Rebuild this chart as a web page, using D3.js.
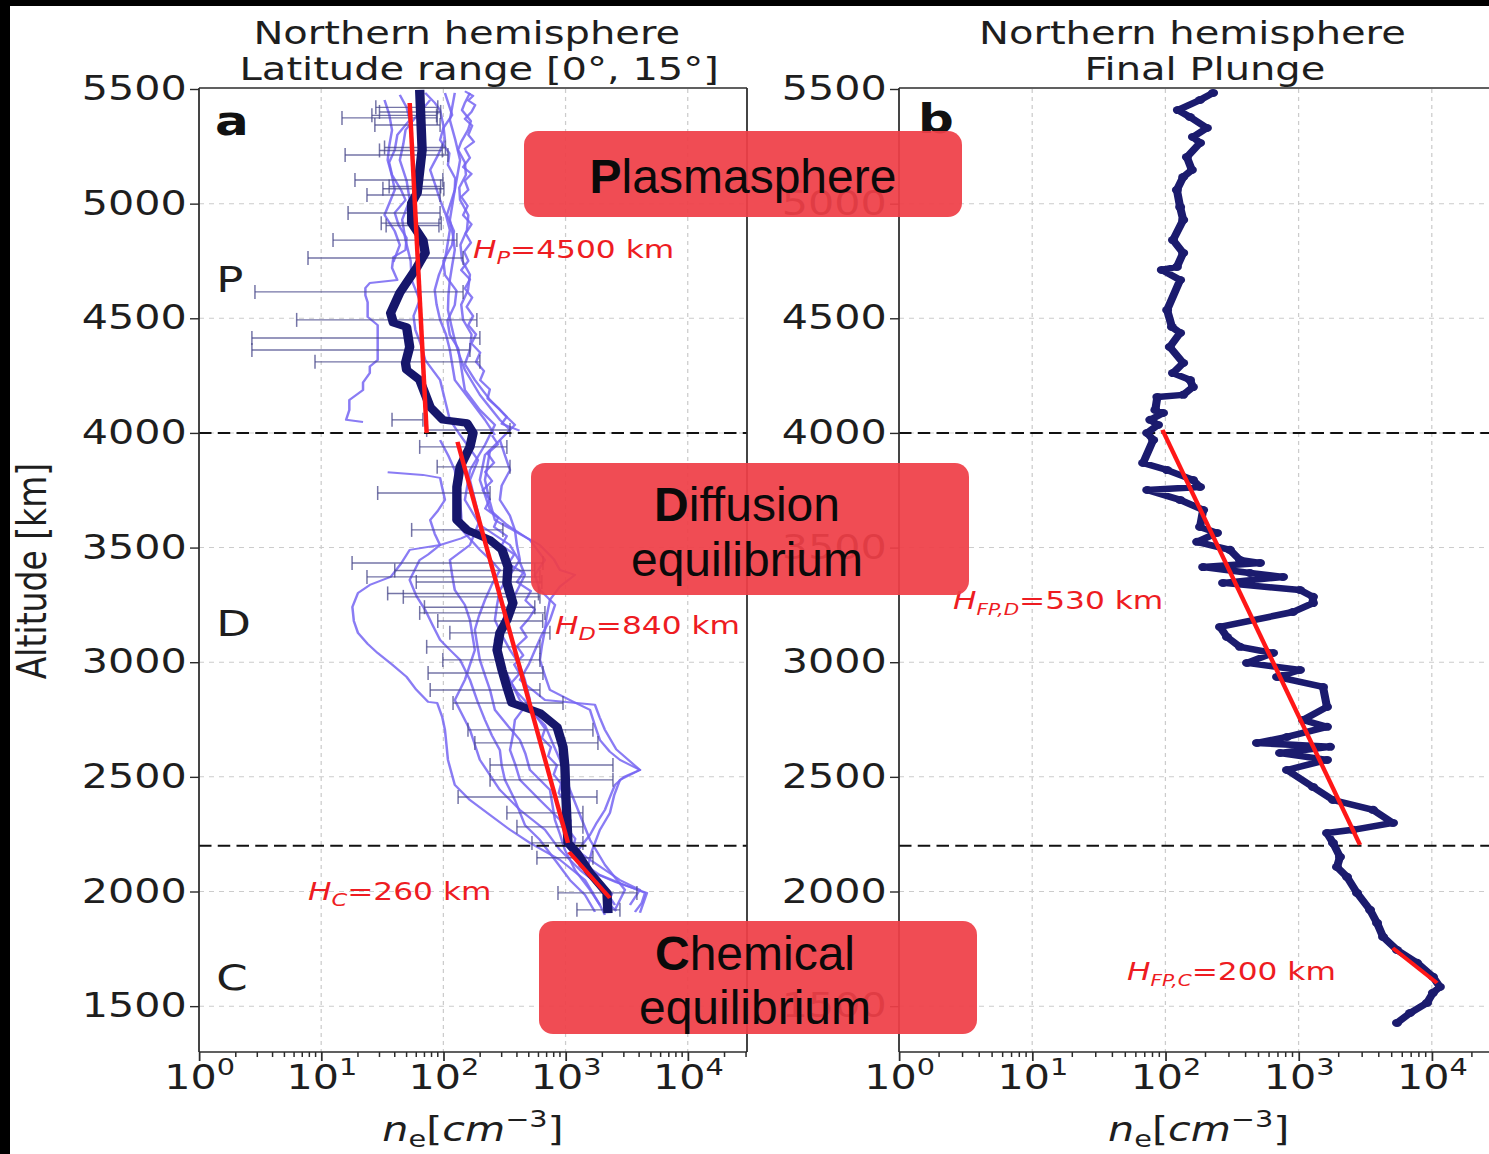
<!DOCTYPE html>
<html>
<head>
<meta charset="utf-8">
<script src="https://cdn.jsdelivr.net/npm/d3@7"></script>
<style>
  html, body { margin: 0; padding: 0; background: #fff; }
  #wrap { position: relative; width: 1489px; height: 1154px; overflow: hidden; background: #fff; }
  #wrap svg { position: absolute; left: 0; top: 0; }
</style>
</head>
<body>
<div id="wrap"></div>
<script>
// ---------------------------------------------------------------------------
// Data: electron density n_e [cm^-3] against altitude [km], pairs are [alt, ne]
// ---------------------------------------------------------------------------
const altTicks = [1500, 2000, 2500, 3000, 3500, 4000, 4500, 5000, 5500];
const decadeTicks = [1, 10, 100, 1000, 10000];
const regionBoundaries = [4000, 2200];

// panel a: individual passes in the 0-15 deg latitude band
const passA = [[5483,165],[5440,150],[5408,142],[5360,168],[5321,159],[5270,140],[5234,132],[5180,150],[5125,153],[5070,135],[5016,137],[4950,160],[4885,156],[4820,138],[4754,142],[4690,165],[4623,159],[4560,140],[4493,145],[4430,170],[4362,165],[4300,150],[4231,181],[4144,241],[4078,319],[4035,385],[3969,290],[3904,219],[3795,199],[3664,241],[3600,330],[3533,511],[3446,678],[3380,560],[3315,617],[3250,820],[3184,745],[3120,640],[3053,562],[2990,500],[2923,423],[2835,678],[2814,1741],[2760,1900],[2705,2100],[2620,2600],[2530,4064],[2487,2787],[2420,2500],[2343,2308],[2269,1911],[2180,1650],[2094,1496],[2040,2600],[1994,4634],[1907,4064]];
const passB = [[5483,103],[5387,118],[5330,100],[5278,94],[5220,112],[5169,109],[5110,125],[5060,124],[4951,107],[4880,122],[4820,118],[4750,100],[4689,103],[4620,128],[4558,124],[4490,108],[4427,113],[4370,132],[4318,137],[4187,150],[4100,199],[4035,264],[3948,219],[3838,165],[3708,150],[3598,199],[3511,351],[3440,420],[3381,465],[3250,351],[3170,300],[3097,264],[2966,319],[2835,423],[2726,678],[2650,780],[2574,900],[2443,1087],[2334,1312],[2225,1585],[2116,2100],[2007,3062],[1920,2536]];
const passC = [[5452,78],[5380,60],[5321,49],[5260,47],[5190,44],[5100,50],[5016,53],[4930,46],[4841,49],[4750,54],[4667,55],[4580,64],[4510,57],[4449,59],[4380,66],[4318,71],[4231,94],[4144,103],[4057,113],[3991,137],[3882,192],[3795,165],[3708,181],[3620,199],[3511,165],[3446,113],[3380,118],[3315,124],[3250,150],[3184,165],[3053,181],[2923,150],[2835,124],[2705,165],[2574,199],[2443,290],[2356,423],[2269,678],[2181,900],[2094,1312],[2007,2100],[1941,2536]];
const passD = [[5474,44],[5420,50],[5365,53],[5300,42],[5234,40],[5180,36],[5125,38],[5060,45],[5016,49],[4960,40],[4907,43],[4850,50],[4798,49],[4767,39],[4720,38],[4667,42],[4654,25],[4632,23],[4600,23],[4570,24],[4506,24],[4470,29],[4419,29],[4380,29],[4318,29],[4290,25],[4261,25],[4220,22],[4187,22],[4144,17],[4100,17],[4057,16],[4048,22]];
const passE = [[3577,199],[3540,140],[3511,94],[3490,53],[3430,45],[3372,37],[3337,25],[3302,20],[3241,18],[3180,18.5],[3128,20],[3080,24],[3040,29],[2990,38],[2936,50],[2880,60],[2827,75],[2822,89],[2760,98],[2705,103],[2640,106],[2574,109],[2465,124],[2399,165],[2334,241],[2269,351],[2212,511],[2138,900],[2050,1442],[1941,1911],[1898,2100]];
const passF = [[3969,290],[3900,320],[3838,351],[3770,300],[3708,290],[3640,350],[3577,385],[3510,400],[3446,423],[3380,350],[3315,290],[3250,275],[3184,264],[3120,300],[3053,351],[2990,420],[2923,465],[2835,511],[2748,385],[2680,370],[2617,351],[2550,390],[2487,423],[2399,617],[2312,900],[2203,1087],[2138,1585],[2050,2787],[2007,4064],[1941,3365]];
const passG = [[3926,241],[3860,230],[3795,219],[3700,240],[3620,264],[3560,420],[3511,617],[3450,800],[3402,900],[3381,1194],[3330,900],[3272,745],[3200,700],[3141,678],[3070,640],[3010,617],[2940,680],[2879,745],[2835,1087],[2792,1585],[2720,1750],[2661,1911],[2610,2300],[2574,2787],[2530,4064],[2500,3000],[2465,2536],[2410,2300],[2356,2100],[2300,1800],[2247,1585],[2200,1350],[2160,1194],[2110,1500],[2072,1911],[2030,3000],[1994,4466],[1950,4200],[1911,3698]];
const passH = [[3969,94],[3900,110],[3838,124],[3770,130],[3708,137],[3640,140],[3577,142],[3530,170],[3490,199],[3440,250],[3402,290],[3340,250],[3272,219],[3200,195],[3141,181],[3070,190],[3010,199],[2940,220],[2879,241],[2792,264],[2720,340],[2661,423],[2600,470],[2530,511],[2443,745],[2380,780],[2312,819],[2250,900],[2181,989],[2094,1194],[2007,1585],[1941,1911]];
const passI = [[3829,35],[3817,68],[3804,94],[3760,98],[3708,103],[3660,90],[3620,78],[3560,85],[3511,94],[3470,75],[3446,64],[3400,58],[3359,53],[3290,60],[3228,71],[3160,82],[3097,94],[3050,115],[3010,137],[2923,165],[2830,190],[2748,219],[2680,250],[2617,290],[2550,300],[2487,319],[2399,385],[2290,465],[2225,617],[2138,819],[2050,1087],[1985,1442],[1911,1741]];
const passJ = [[5483,71],[5440,85],[5408,94],[5340,100],[5278,103],[5210,90],[5147,78],[5080,86],[5016,94],[4950,105],[4885,113],[4820,108],[4754,103],[4690,92],[4623,85],[4560,88],[4493,94],[4430,105],[4362,113],[4300,118],[4231,124],[4144,165],[4057,219],[3991,264]];
const passK = [[5483,124],[5420,118],[5365,113],[5280,125],[5190,137],[5120,130],[5060,124],[4990,118],[4929,113],[4860,120],[4798,124],[4730,118],[4667,113],[4600,110],[4536,109],[4470,116],[4405,124],[4340,135],[4275,150],[4166,199],[4057,290],[4013,351]];
const passL = [[5452,33],[5390,36],[5321,38],[5250,36],[5190,35],[5120,38],[5060,40],[5000,36],[4951,33],[4880,40],[4820,44],[4746,39]];
const passM = [[5490,150],[5470,175],[5450,160],[5430,182],[5400,170],[5370,150],[5340,172],[5300,160],[5270,178],[5240,150],[5200,165],[5160,145],[5130,170],[5100,150],[5060,160],[5030,140],[4990,158],[4950,145],[4910,170],[4870,152],[4830,168],[4790,148],[4750,160],[4710,140],[4670,165],[4630,150],[4590,172],[4550,155],[4510,175],[4470,160],[4430,185],[4390,170],[4350,200],[4310,185],[4270,215],[4230,200],[4190,240],[4150,230],[4110,280],[4070,330],[4040,300],[4010,420]];
const passN = [[3990,250],[3950,280],[3910,230],[3870,260],[3830,220],[3790,250],[3750,210],[3710,240],[3670,220],[3630,280],[3590,260],[3550,330],[3510,300],[3470,380],[3430,340],[3390,450],[3350,400],[3310,520],[3270,470],[3230,560],[3190,500],[3150,430],[3110,480],[3070,400],[3030,450],[2990,380],[2950,420],[2910,360],[2870,400],[2830,470],[2790,540],[2750,600],[2710,680],[2670,640],[2630,760],[2590,720],[2550,850],[2510,800],[2470,920],[2430,880],[2390,1000],[2350,950],[2310,1100],[2270,1050],[2230,1200],[2190,1150],[2150,1350],[2110,1300],[2070,1600],[2030,1800],[1990,2400],[1950,2200],[1915,2600]];

// panel a: median profile of the passes
const medianProfile = [[5496,64],[5234,67],[5046,61],[5003,55],[4916,55],[4841,68],[4785,71],[4724,61],[4611,44],[4523,37],[4480,39],[4462,50],[4375,53],[4305,49],[4275,50],[4231,64],[4113,78],[4057,99],[4043,156],[4000,175],[3939,165],[3852,137],[3764,129],[3620,129],[3577,156],[3533,241],[3490,302],[3415,338],[3346,331],[3258,371],[3184,331],[3128,290],[3053,275],[2966,302],[2892,331],[2822,364],[2779,617],[2718,851],[2631,953],[2543,988],[2412,1007],[2312,1026],[2212,1047],[2168,1240],[2081,1585],[1994,2182],[1906,2224]];

// panel a: spread of the passes at given altitudes, [alt, low, high]
const spreadBars = [[5420,28,90],[5400,30,95],[5385,26,88],[5374,14.8,89],[5343,27.5,94],[5245,33,104],[5232,30,98],[5212,15.7,109],[5103,18.9,99],[5075,36,95],[5065,32,101],[5038,23.7,94],[4959,16.6,94],[4915,31,96],[4905,34,92],[4841,12.5,129],[4763,7.8,145],[4615,2.87,145],[4493,6.3,188],[4414,2.71,199],[4362,2.71,165],[4310,8.9,199],[4057,38,68],
  [4013,73,351],[3939,64,331],[3852,89,351],[3738,29,241],[3577,55,307],[3433,17.9,653],[3400,40,560],[3372,23.7,617],[3350,60,640],[3300,35,600],[3285,47,617],[3240,70,560],[3215,64,678],[3180,90,650],[3128,113,745],[3067,73,617],[3010,99,617],[2953,75,653],[2879,78,617],[2822,120,953],[2705,159,1675],[2648,181,1841],[2552,241,2443],[2487,241,2443],[2412,132,1807],[2343,331,1387],[2282,400,1387],[2212,531,1387],[2147,583,1675],[1994,867,3837],[1920,1239,2787]];

// panel b: final plunge profile
const plungeProfile = [[5483,228],[5452,182],[5408,124],[5378,153],[5330,205],[5291,161],[5265,182],[5203,145],[5147,158],[5116,136],[5060,122],[4985,129],[4929,136],[4841,114],[4785,136],[4724,122],[4711,94],[4667,129],[4536,103],[4462,112],[4436,129],[4375,108],[4305,136],[4261,114],[4231,153],[4200,161],[4166,136],[4157,87],[4100,84],[4087,96],[4057,77],[4035,88],[4000,73],[3969,81],[3869,68],[3838,103],[3795,161],[3764,182],[3751,73],[3708,129],[3664,192],[3590,182],[3564,244],[3525,173],[3490,305],[3446,363],[3433,513],[3415,192],[3389,431],[3372,764],[3346,271],[3315,1024],[3285,1282],[3258,1282],[3219,907],[3154,257],[3110,290],[3067,363],[3040,643],[2997,410],[2966,1024],[2936,689],[2892,1525],[2805,1634],[2748,1079],[2718,1634],[2674,818],[2648,487],[2631,1721],[2604,725],[2574,1634],[2530,818],[2456,1282],[2399,1812],[2356,3620],[2299,5114],[2269,2559],[2255,1634],[2212,1812],[2151,2046],[2107,1941],[2064,2308],[1994,2744],[1920,3437],[1863,3880],[1802,4305],[1745,5480],[1689,7740],[1628,10200],[1584,11500],[1558,10200],[1514,9200],[1470,6864],[1427,5480]];

// exponential fits n = n0 exp(-(h - h0)/H): scale height H, altitude span, density at lower end
const fitsA = [
  { sub: 'P', H: 4500, top: 5439, bottom: 4000, neBottom: 73 },
  { sub: 'D', H: 840,  top: 3961, bottom: 2212, neBottom: 1047 },
  { sub: 'C', H: 260,  top: 2172, bottom: 1972, neBottom: 2307 }
];
const fitsB = [
  { sub: 'FP,D', H: 530, top: 4013, bottom: 2203, neBottom: 2890 },
  { sub: 'FP,C', H: 200, top: 1754, bottom: 1601, neBottom: 10940 }
];
const regionLetters = ['P', 'D', 'C'];
const regionNames = [['Plasmasphere'], ['Diffusion', 'equilibrium'], ['Chemical', 'equilibrium']];

// ---------------------------------------------------------------------------
// Figure
// ---------------------------------------------------------------------------
const W = 1489, H = 1154;
const SX = 1.25;                 // the figure is drawn with a horizontal stretch
const VBW = W / SX;
const FONT = "'DejaVu Sans', 'Liberation Sans', sans-serif";
const INK = '#1e1e1e';

const main = d3.select('#wrap').append('svg')
  .attr('width', W).attr('height', H)
  .attr('viewBox', `0 0 ${VBW} ${H}`)
  .attr('preserveAspectRatio', 'none')
  .attr('font-family', FONT);
const defs = main.append('defs');

const y = d3.scaleLinear().domain([1300, 5500]).range([1052, 89]);
const xA = d3.scaleLog().domain([1, Math.pow(10, 4.485)]).range([199 / SX, 747 / SX]);
const xB = d3.scaleLog().domain([1, Math.pow(10, 4.5)]).range([899 / SX, 1498.4 / SX]);

function buildPanel(x, id) {
  const g = main.append('g');
  const [x0, x1] = x.range();
  const right = Math.min(x1, VBW + 4);
  const yTop = y.range()[1], yBot = y.range()[0];

  defs.append('clipPath').attr('id', id).append('rect')
    .attr('x', x0).attr('y', yTop - 1).attr('width', right - x0).attr('height', yBot - yTop + 2);

  // grid
  const grid = g.append('g').attr('stroke', '#cccccc').attr('stroke-width', 1).attr('stroke-dasharray', '4,4');
  decadeTicks.filter(v => v > 1).forEach(v =>
    grid.append('line').attr('x1', x(v)).attr('x2', x(v)).attr('y1', yTop).attr('y2', yBot));
  altTicks.filter(a => a < 5500).forEach(a =>
    grid.append('line').attr('x1', x0).attr('x2', right).attr('y1', y(a)).attr('y2', y(a)));

  // y axis
  const ya = g.append('g').attr('transform', `translate(${x0},0)`)
    .call(d3.axisLeft(y).tickValues(altTicks).tickSize(7.2).tickPadding(2.6).tickFormat(d3.format('d')));
  ya.select('.domain').remove();
  ya.attr('font-size', 33).attr('font-family', FONT);
  ya.selectAll('.tick line').attr('stroke', '#2b2b2b').attr('stroke-width', 1.4);
  ya.selectAll('.tick text').attr('fill', INK);

  // x axis, decades with superscript exponents
  const xa = g.append('g').attr('transform', `translate(0,${yBot})`)
    .call(d3.axisBottom(x).tickValues(decadeTicks).tickSize(9).tickPadding(4).tickFormat(() => ''));
  xa.select('.domain').remove();
  xa.attr('font-size', 33).attr('font-family', FONT);
  xa.selectAll('.tick line').attr('stroke', '#2b2b2b').attr('stroke-width', 1.4);
  xa.selectAll('.tick text').each(function (d) {
    const t = d3.select(this).attr('dy', null).attr('y', 37).attr('fill', INK);
    t.append('tspan').text('10');
    t.append('tspan').attr('dy', -14).attr('font-size', 23).text(Math.round(Math.log10(d)));
  });
  // minor ticks
  const minor = [];
  for (let d = 0; d < 5; d++) for (let k = 2; k <= 9; k++) {
    const v = k * Math.pow(10, d);
    if (v < x.domain()[1]) minor.push(v);
  }
  g.append('g').selectAll('line').data(minor).join('line')
    .attr('x1', d => x(d)).attr('x2', d => x(d))
    .attr('y1', yBot).attr('y2', yBot + 5)
    .attr('stroke', '#2b2b2b').attr('stroke-width', 1.2);

  const data = g.append('g').attr('clip-path', `url(#${id})`);

  // spines
  const sp = g.append('g').attr('stroke', '#2b2b2b').attr('stroke-width', 1.4);
  sp.append('line').attr('x1', x0).attr('x2', x0).attr('y1', yTop - 1).attr('y2', yBot);
  sp.append('line').attr('x1', x0).attr('x2', right).attr('y1', yBot).attr('y2', yBot);
  sp.append('line').attr('x1', x0).attr('x2', right).attr('y1', yTop - 1).attr('y2', yTop - 1);
  if (x1 <= VBW) sp.append('line').attr('x1', x1).attr('x2', x1).attr('y1', yTop - 1).attr('y2', yBot);

  return { g, data, x, x0, right, center: (x0 + x1) / 2 };
}

function boundaryLines(p) {
  p.data.append('g').selectAll('line').data(regionBoundaries).join('line')
    .attr('x1', p.x0).attr('x2', p.right)
    .attr('y1', d => y(d)).attr('y2', d => y(d))
    .attr('stroke', '#111').attr('stroke-width', 2).attr('stroke-dasharray', '10,5');
}

function drawFits(p, fits) {
  const line = d3.line().x(d => p.x(d[1])).y(d => y(d[0]));
  p.data.append('g').selectAll('path').data(fits).join('path')
    .attr('d', f => line([[f.top, f.neBottom * Math.exp(-(f.top - f.bottom) / f.H)], [f.bottom, f.neBottom]]))
    .attr('fill', 'none').attr('stroke', '#ff1717').attr('stroke-width', 3.6);
}

function scaleHeightLabel(p, f, xPos, yPos) {
  const t = p.g.append('text').attr('x', xPos).attr('y', yPos)
    .attr('fill', '#ee1c22').attr('font-size', 25);
  t.append('tspan').attr('font-style', 'italic').text('H');
  t.append('tspan').attr('font-style', 'italic').attr('font-size', f.sub.length > 1 ? 16 : 18).attr('dy', 6).text(f.sub);
  t.append('tspan').attr('dy', -6).text(`=${f.H} km`);
}

function titles(p, lines) {
  lines.forEach((s, i) => p.g.append('text').attr('x', p.center + (i === 0 ? -5 : 5)).attr('y', 44 + i * 36)
    .attr('text-anchor', 'middle').attr('font-size', 32).attr('fill', INK).text(s));
}

function xLabel(p) {
  const t = p.g.append('text').attr('x', p.center).attr('y', 1141)
    .attr('text-anchor', 'middle').attr('font-size', 33).attr('fill', INK);
  t.append('tspan').attr('font-style', 'italic').text('n');
  t.append('tspan').attr('font-size', 23).attr('dy', 6).text('e');
  t.append('tspan').attr('dy', -6).text('[');
  t.append('tspan').attr('font-style', 'italic').text('cm');
  t.append('tspan').attr('font-size', 23).attr('dy', -14).text('\u22123');
  t.append('tspan').attr('dy', 14).text(']');
}

// ---------------- panel a ----------------
const pa = buildPanel(xA, 'clipA');
const lineA = d3.line().x(d => xA(d[1])).y(d => y(d[0]));
const passes = [passA, passB, passC, passD, passE, passF, passG, passH, passI, passJ, passK, passL, passM, passN];
pa.data.append('g').selectAll('path').data(passes).join('path')
  .attr('d', lineA).attr('fill', 'none')
  .attr('stroke', '#7565f2').attr('stroke-opacity', 0.85)
  .attr('stroke-width', 2).attr('stroke-linejoin', 'round');

const bars = pa.data.append('g').attr('stroke', '#47478a').attr('stroke-opacity', 0.75).attr('stroke-width', 1.4);
spreadBars.forEach(([alt, lo, hi]) => {
  bars.append('line').attr('x1', xA(lo)).attr('x2', xA(hi)).attr('y1', y(alt)).attr('y2', y(alt));
  [lo, hi].forEach(v => bars.append('line').attr('x1', xA(v)).attr('x2', xA(v))
    .attr('y1', y(alt) - 7).attr('y2', y(alt) + 7).attr('stroke-width', 1.2));
});
boundaryLines(pa);
pa.data.append('path').datum(medianProfile).attr('d', lineA)
  .attr('fill', 'none').attr('stroke', '#16166b').attr('stroke-width', 7.5)
  .attr('stroke-linejoin', 'round');
drawFits(pa, fitsA);

titles(pa, ['Northern hemisphere', 'Latitude range [0\u00b0, 15\u00b0]']);
xLabel(pa);
pa.g.append('text').attr('x', 172).attr('y', 135).attr('font-size', 40)
  .attr('font-weight', 'bold').attr('fill', '#111').text('a');
[292, 636, 990].forEach((yy, i) => pa.g.append('text').attr('x', 173).attr('y', yy)
  .attr('font-size', 36).attr('fill', INK).text(regionLetters[i]));
scaleHeightLabel(pa, fitsA[0], 378.4, 258);
scaleHeightLabel(pa, fitsA[1], 444, 634);
scaleHeightLabel(pa, fitsA[2], 246.4, 900);

main.append('text').attr('transform', 'translate(36.5,571) rotate(-90)')
  .attr('text-anchor', 'middle').attr('font-size', 33).attr('fill', INK).text('Altitude [km]');

// ---------------- panel b ----------------
const pb = buildPanel(xB, 'clipB');
const lineB = d3.line().x(d => xB(d[1])).y(d => y(d[0]));
boundaryLines(pb);
pb.data.append('path').datum(plungeProfile).attr('d', lineB)
  .attr('fill', 'none').attr('stroke', '#1b1b6e').attr('stroke-width', 6.5)
  .attr('stroke-linejoin', 'round').attr('stroke-linecap', 'round');
pb.data.append('g').selectAll('circle').data(plungeProfile).join('circle')
  .attr('cx', d => xB(d[1])).attr('cy', d => y(d[0])).attr('r', 4)
  .attr('fill', '#1b1b6e');
drawFits(pb, fitsB);

titles(pb, ['Northern hemisphere', 'Final Plunge']);
xLabel(pb);
pb.g.append('text').attr('x', 734.4).attr('y', 133).attr('font-size', 40)
  .attr('font-weight', 'bold').attr('fill', '#111').text('b');
scaleHeightLabel(pb, fitsB[0], 762.4, 609);
scaleHeightLabel(pb, fitsB[1], 901.6, 980);

// ---------------- region callouts and frame edge ----------------
const over = d3.select('#wrap').append('svg').attr('width', W).attr('height', H);
const callouts = [
  { x: 524, y: 131, w: 438, h: 86, cx: 743, base: [193] },
  { x: 531, y: 463, w: 438, h: 132, cx: 747, base: [521, 576] },
  { x: 539, y: 921, w: 438, h: 113, cx: 755, base: [970, 1024] }
];
callouts.forEach((c, i) => {
  over.append('rect').attr('x', c.x).attr('y', c.y).attr('width', c.w).attr('height', c.h)
    .attr('rx', 14).attr('fill', '#ef3e47').attr('fill-opacity', 0.93);
  regionNames[i].forEach((s, j) => {
    const t = over.append('text').attr('x', c.cx).attr('y', c.base[j])
      .attr('text-anchor', 'middle').attr('font-family', "'Liberation Sans', Arial, sans-serif")
      .attr('font-size', 48).attr('fill', '#0a0a0a');
    if (j === 0) {
      t.append('tspan').attr('font-weight', 'bold').text(s[0]);
      t.append('tspan').text(s.slice(1));
    } else {
      t.text(s);
    }
  });
});
over.append('rect').attr('x', 0).attr('y', 0).attr('width', W).attr('height', 6).attr('fill', '#000');
over.append('rect').attr('x', 0).attr('y', 0).attr('width', 10).attr('height', H).attr('fill', '#000');
</script>
</body>
</html>
